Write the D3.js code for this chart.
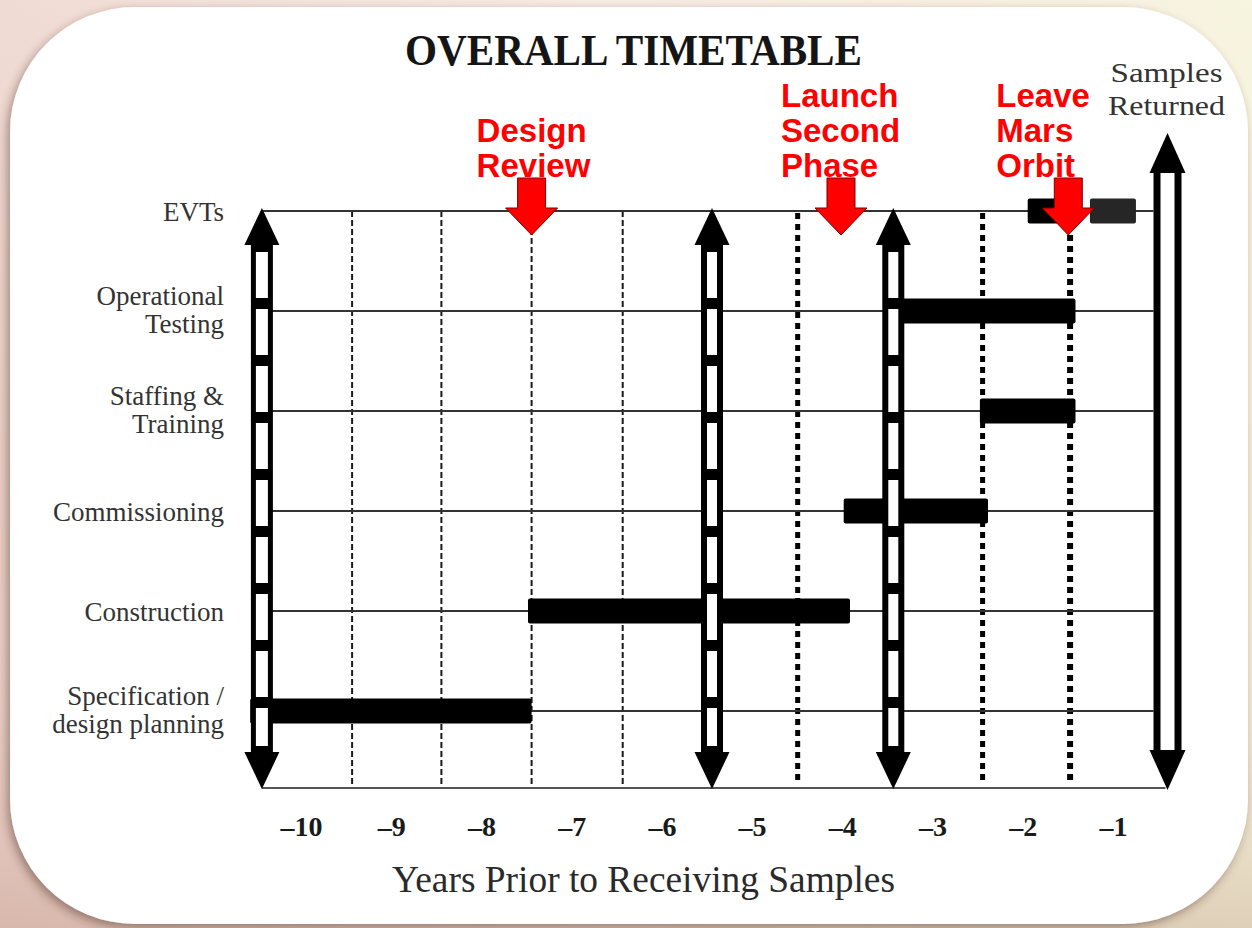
<!DOCTYPE html>
<html>
<head>
<meta charset="utf-8">
<script src="https://cdn.jsdelivr.net/npm/d3@7"></script>
<style>
  html, body { margin: 0; padding: 0; background: #fff; }
  svg { display: block; }
</style>
</head>
<body>
<svg id="chart" width="1252" height="928"></svg>
<script>
// ---------------- DATA ----------------
const rows = ["EVTs", "Operational Testing", "Staffing & Training", "Commissioning", "Construction", "Specification / design planning"];
const rowLabelLines = [["EVTs"], ["Operational", "Testing"], ["Staffing &", "Training"], ["Commissioning"], ["Construction"], ["Specification /", "design planning"]];

const xTicks = [-10, -9, -8, -7, -6, -5, -4, -3, -2, -1];
const xTickLabels = ["–10", "–9", "–8", "–7", "–6", "–5", "–4", "–3", "–2", "–1"];

// activity bars (years prior to receiving samples)
const barRows   = ["EVTs", "EVTs", "Operational Testing", "Staffing & Training", "Commissioning", "Construction", "Specification / design planning"];
const barStarts = [-2.00, -1.31, -3.40, -2.53, -4.04, -7.54, -10.62];
const barEnds   = [-1.48, -0.80, -1.47, -1.47, -2.44, -3.97, -7.50];

// milestone events (red arrows)
const eventNames = ["Design Review", "Launch Second Phase", "Leave Mars Orbit"];
const eventLines = [["Design", "Review"], ["Launch", "Second", "Phase"], ["Leave", "Mars", "Orbit"]];
const eventYears = [-7.50, -4.07, -1.55];

// vertical reference lines
const dashedYears = [-9.49, -8.50, -7.50, -6.49];
const dottedYears = [-4.55, -2.50, -1.53];
const stripArrowYears = [-10.49, -5.50, -3.49];
const samplesReturnedYear = -0.45;
const samplesReturnedLines = ["Samples", "Returned"];

const titleText = "OVERALL TIMETABLE";
const xTitle = "Years Prior to Receiving Samples";

// ---------------- LAYOUT ----------------
const W = 1252, H = 928;
const svg = d3.select("#chart");

const x = d3.scaleLinear().domain([-5.5, -4.5]).range([712, 802.2]);
const y = d3.scalePoint().domain(rows).range([211, 711]);
const axisY = 788;
const topY = y(rows[0]);

// defs
const defs = svg.append("defs");
const bg = defs.append("linearGradient").attr("id", "bgGrad").attr("x1", 0).attr("y1", 0).attr("x2", 1).attr("y2", 0);
bg.append("stop").attr("offset", 0).attr("stop-color", "#ebcfc6");
bg.append("stop").attr("offset", 0.45).attr("stop-color", "#f3e3d8");
bg.append("stop").attr("offset", 1).attr("stop-color", "#f4f0d6");
const bg2 = defs.append("linearGradient").attr("id", "bgGrad2").attr("x1", 0).attr("y1", 0).attr("x2", 0).attr("y2", 1);
bg2.append("stop").attr("offset", 0).attr("stop-color", "#ffffff").attr("stop-opacity", 0.25);
bg2.append("stop").attr("offset", 0.6).attr("stop-color", "#ffffff").attr("stop-opacity", 0);
bg2.append("stop").attr("offset", 1).attr("stop-color", "#a07060").attr("stop-opacity", 0.25);
const sh = defs.append("filter").attr("id", "shadow").attr("x", "-5%").attr("y", "-5%").attr("width", "110%").attr("height", "110%");
sh.append("feDropShadow").attr("dx", -3).attr("dy", 4).attr("stdDeviation", 5)
  .attr("flood-color", "#4a2c28").attr("flood-opacity", 0.45);

svg.append("rect").attr("width", W).attr("height", H).attr("fill", "url(#bgGrad)");
svg.append("rect").attr("width", W).attr("height", H).attr("fill", "url(#bgGrad2)");

// card
svg.append("rect")
  .attr("x", 10).attr("y", 7).attr("width", 1238).attr("height", 917)
  .attr("rx", 125).attr("ry", 125)
  .attr("fill", "#ffffff").attr("filter", "url(#shadow)");

// title
svg.append("text")
  .attr("x", 405).attr("y", 65)
  .attr("textLength", 457).attr("lengthAdjust", "spacingAndGlyphs")
  .style("font-family", "'Liberation Serif', 'Times New Roman', serif")
  .style("font-weight", "bold").style("font-size", "44px")
  .attr("fill", "#151515")
  .text(titleText);

// dashed thin grid
const gGrid = svg.append("g");
gGrid.selectAll("line.dash").data(dashedYears).join("line")
  .attr("class", "dash")
  .attr("x1", d => x(d)).attr("x2", d => x(d))
  .attr("y1", topY).attr("y2", axisY)
  .attr("stroke", "#1a1a1a").attr("stroke-width", 2)
  .attr("stroke-dasharray", "6,3");

// thick dotted lines
const dottedWidths = [5, 5, 6];
gGrid.selectAll("line.dot").data(dottedYears).join("line")
  .attr("class", "dot")
  .attr("x1", d => x(d)).attr("x2", d => x(d))
  .attr("y1", topY + 2).attr("y2", axisY - 4)
  .attr("stroke", "#000").attr("stroke-width", (d, i) => dottedWidths[i])
  .attr("stroke-dasharray", "6,5");

// row lines
const rowLineLeft = x(stripArrowYears[0]);
const rowLineRight = x(samplesReturnedYear) - 14;
svg.append("g").selectAll("line").data(rows).join("line")
  .attr("x1", rowLineLeft).attr("x2", rowLineRight)
  .attr("y1", d => y(d)).attr("y2", d => y(d))
  .attr("stroke", "#333").attr("stroke-width", 1.8);

// bottom axis baseline
svg.append("line")
  .attr("x1", rowLineLeft).attr("x2", x(samplesReturnedYear) - 2)
  .attr("y1", axisY).attr("y2", axisY)
  .attr("stroke", "#555").attr("stroke-width", 2);

// bars
const barH = 25;
svg.append("g").selectAll("rect").data(barRows).join("rect")
  .attr("x", (d, i) => x(barStarts[i]))
  .attr("width", (d, i) => x(barEnds[i]) - x(barStarts[i]))
  .attr("y", d => y(d) - barH / 2)
  .attr("height", barH)
  .attr("rx", 2)
  .attr("fill", (d, i) => i === 1 ? "#262626" : "#000");

// strip (film) double arrows
const headW = 35, headH = 37;
const gStrip = svg.append("g");
stripArrowYears.forEach((yr, i) => {
  const cx = x(yr);
  const tTip = topY - 3, tBase = tTip + headH;
  const bTip = axisY + 1, bBase = bTip - headH;
  const g = gStrip.append("g");
  g.append("rect").attr("x", cx - 11).attr("y", tBase - 1).attr("width", 22).attr("height", bBase - tBase + 2).attr("fill", "#000");
  g.append("line")
    .attr("x1", cx).attr("x2", cx)
    .attr("y1", tBase + 7).attr("y2", bBase - 6)
    .attr("stroke", "#fff").attr("stroke-width", i === 0 ? 12 : 10)
    .attr("stroke-dasharray", "46,11");
  g.append("path").attr("d", `M${cx},${tTip}L${cx + headW / 2},${tBase}L${cx - headW / 2},${tBase}Z`).attr("fill", "#000");
  g.append("path").attr("d", `M${cx},${bTip}L${cx + headW / 2},${bBase}L${cx - headW / 2},${bBase}Z`).attr("fill", "#000");
});

// samples returned arrow (hollow double line)
{
  const cx = x(samplesReturnedYear);
  const tTip = 133, tBase = 173, bBase = 750, bTip = 790;
  const g = svg.append("g");
  [-10.5, 10.5].forEach(off => {
    g.append("line").attr("x1", cx + off).attr("x2", cx + off)
      .attr("y1", tBase - 2).attr("y2", bBase + 2)
      .attr("stroke", "#000").attr("stroke-width", 7);
  });
  g.append("path").attr("d", `M${cx},${tTip}L${cx + 18},${tBase}L${cx - 18},${tBase}Z`).attr("fill", "#000");
  g.append("path").attr("d", `M${cx},${bTip}L${cx + 18},${bBase}L${cx - 18},${bBase}Z`).attr("fill", "#000");
  g.selectAll("text").data(samplesReturnedLines).join("text")
    .attr("x", cx - 1).attr("y", (d, i) => 82 + i * 33)
    .attr("text-anchor", "middle")
    .attr("textLength", (d, i) => i === 0 ? 112 : 117)
    .attr("lengthAdjust", "spacingAndGlyphs")
    .style("font-family", "'Liberation Serif', 'Times New Roman', serif")
    .style("font-size", "28px")
    .attr("fill", "#333")
    .text(d => d);
}

// row labels
const gLab = svg.append("g")
  .style("font-family", "'Liberation Serif', 'Times New Roman', serif")
  .style("font-size", "27px").attr("fill", "#333");
rows.forEach((r, i) => {
  const lines = rowLabelLines[i];
  const base = y(r);
  const first = lines.length === 1 ? base + 10 : base - 6;
  lines.forEach((ln, j) => {
    gLab.append("text")
      .attr("x", 224).attr("y", first + j * 28)
      .attr("text-anchor", "end")
      .text(ln);
  });
});

// x axis (tick labels only)
const xAxis = d3.axisBottom(x).tickValues(xTicks)
  .tickFormat((d, i) => xTickLabels[i]).tickSize(0).tickSizeOuter(0);
const gAx = svg.append("g").attr("transform", `translate(0,${axisY})`).call(xAxis);
gAx.select(".domain").remove();
gAx.selectAll("text")
  .attr("y", 48).attr("dy", null).attr("dx", -5)
  .style("font-family", "'Liberation Serif', 'Times New Roman', serif")
  .style("font-weight", "bold").style("font-size", "28px")
  .attr("fill", "#1a1a1a");

// x axis title
svg.append("text")
  .attr("x", (392 + 895) / 2).attr("y", 892)
  .attr("text-anchor", "middle")
  .attr("textLength", 503).attr("lengthAdjust", "spacingAndGlyphs")
  .style("font-family", "'Liberation Serif', 'Times New Roman', serif")
  .style("font-size", "37px").attr("fill", "#2a2a2a")
  .text(xTitle);

// red milestone arrows + labels
const eventLabelDx = [-55, -60, -72];
const gEv = svg.append("g");
eventYears.forEach((yr, i) => {
  const cx = x(yr);
  const tip = topY + 24, hb = topY - 3, st = topY - 33;
  gEv.append("path")
    .attr("d", `M${cx - 14},${st}L${cx + 14},${st}L${cx + 14},${hb}L${cx + 26},${hb}L${cx},${tip}L${cx - 26},${hb}L${cx - 14},${hb}Z`)
    .attr("fill", "#ff0000").attr("stroke", "#7a0000").attr("stroke-width", 1);
  const lines = eventLines[i];
  lines.forEach((ln, j) => {
    gEv.append("text")
      .attr("x", cx + eventLabelDx[i])
      .attr("y", 177 - (lines.length - 1 - j) * 35)
      .style("font-family", "'Liberation Sans', Arial, sans-serif")
      .style("font-weight", "bold").style("font-size", "33px")
      .attr("fill", "#ff0000")
      .text(ln);
  });
});
</script>
</body>
</html>
